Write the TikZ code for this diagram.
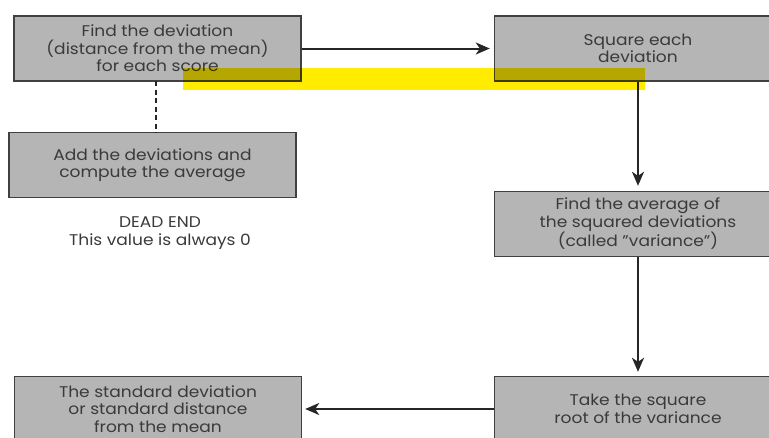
\documentclass[tikz,border=0pt]{standalone}
\usepackage{fontspec}
\setmainfont{Poppins}[FakeStretch=1.1]
\usetikzlibrary{arrows.meta}
\definecolor{boxfill}{HTML}{B5B5B5}
\definecolor{boxline}{HTML}{404040}
\definecolor{txt}{HTML}{3A3A3A}
\definecolor{hl}{HTML}{FFEC00}
\tikzset{
  stepbox/.style={draw=boxline, line width=1.4pt, fill=boxfill, minimum width=287pt, minimum height=65pt,
    align=center, text=txt, font=\fontsize{15.5}{17.5}\selectfont, inner sep=0pt},
  conn/.style={draw=black!85, line width=2pt, -{Stealth[length=14pt,width=12pt,inset=4pt]}},
  dashconn/.style={draw=black!85, line width=2.6pt, dash pattern=on 5pt off 3.5pt},
  note/.style={align=center, text=txt, font=\fontsize{15.5}{17.5}\selectfont}
}
\begin{document}
\begin{tikzpicture}[x=1pt,y=-1pt]
\useasboundingbox (0,0) rectangle (769,437);
\clip (0,0) rectangle (769,437);
\node[stepbox] (dev) at (157.5,48.5) {Find the deviation\\(distance from the mean)\\for each score};
\node[stepbox] (sq) at (638,48.5) {Square each\\deviation};
\node[stepbox] (add) at (152.5,165) {Add the deviations and\\compute the average};
\node[note] (dead) at (160,233) {DEAD END\\This value is always 0};
\node[stepbox] (avg) at (638,224) {Find the average of\\the squared deviations\\(called \symbol{34}variance\symbol{34})};
\node[stepbox] (root) at (638,409) {Take the square\\root of the variance};
\node[stepbox] (sd) at (158,409) {The standard deviation\\or standard distance\\from the mean};
\coordinate (dtop) at (156,81);
\coordinate (dbot) at (156,133);
\draw[dashconn] (dtop) -- (dbot);
\draw[conn, shorten >=4pt] (dev.east) -- (sq.west);
\draw[conn, shorten >=5pt] (sq.south) -- (avg.north);
\draw[conn, shorten >=4pt] (avg.south) -- (root.north);
\draw[conn, shorten >=3pt] (root.west) -- (sd.east);
\fill[hl, blend mode=multiply] (183,68) rectangle (645,90);
\end{tikzpicture}
\end{document}
